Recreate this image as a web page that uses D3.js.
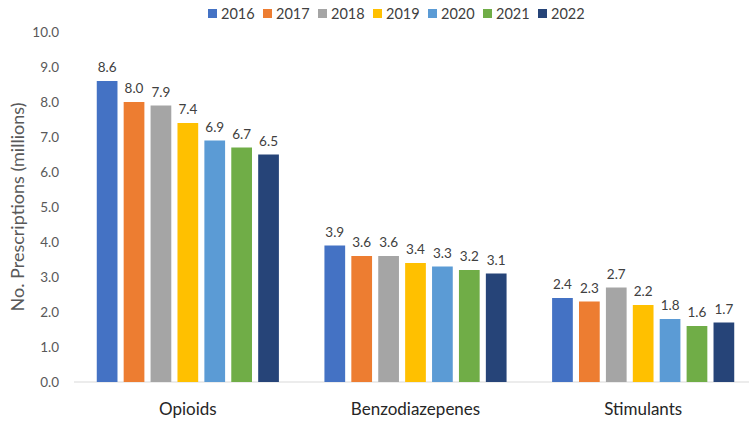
<!DOCTYPE html>
<html lang="en">
<head>
    <meta charset="UTF-8">
    <title>Prescriptions</title>
    <script src="https://d3js.org/d3.v7.min.js"></script>
    <style>
        body { margin: 0; background: #fff; }
        svg { font-family: Lato, "Open Sans", sans-serif; }
    </style>
</head>
<body>
<svg id="chart"></svg>
<script>
    const width = 749;
    const height = 421;

    // data
    var categories = ["Opioids", "Benzodiazepenes", "Stimulants"];
    var years = ["2016", "2017", "2018", "2019", "2020", "2021", "2022"];
    var values = {
        "2016": [8.6, 3.9, 2.4],
        "2017": [8.0, 3.6, 2.3],
        "2018": [7.9, 3.6, 2.7],
        "2019": [7.4, 3.4, 2.2],
        "2020": [6.9, 3.3, 1.8],
        "2021": [6.7, 3.2, 1.6],
        "2022": [6.5, 3.1, 1.7]
    };
    var yTicks = [0, 1, 2, 3, 4, 5, 6, 7, 8, 9, 10];
    var colorMap = {
        "2016": "#4472C4", "2017": "#ED7D31", "2018": "#A5A5A5", "2019": "#FFC000",
        "2020": "#5B9BD5", "2021": "#70AD47", "2022": "#264478"
    };

    const margin = {top: 32, bottom: 39, left: 74, right: -8};

    const svg = d3.select("#chart")
        .attr("width", width)
        .attr("height", height);

    const x0 = d3.scaleBand()
        .domain(categories)
        .range([margin.left, width - margin.right])
        .paddingInner(0.2)
        .paddingOuter(0.1);

    const x1 = d3.scaleBand()
        .domain(years)
        .range([0, x0.bandwidth()])
        .paddingInner(0.23);

    const y = d3.scaleLinear()
        .domain([0, 10])
        .range([height - margin.bottom, margin.top]);

    // y axis labels
    const yAxis = svg.append("g")
        .attr("transform", `translate(${margin.left},0)`)
        .call(d3.axisLeft(y).tickValues(yTicks).tickFormat(d3.format(".1f")).tickSize(0).tickPadding(15));
    yAxis.select(".domain").remove();
    yAxis.selectAll("text")
        .attr("fill", "#595959")
        .style("font-size", "13.5px")
        .style("font-family", "Lato, sans-serif");

    // baseline
    svg.append("line")
        .attr("x1", margin.left)
        .attr("x2", width)
        .attr("y1", y(0))
        .attr("y2", y(0))
        .attr("stroke", "#d9d9d9")
        .attr("stroke-width", 1);

    // bars
    const groups = svg.append("g")
        .selectAll("g")
        .data(categories)
        .join("g")
        .attr("transform", d => `translate(${x0(d)},0)`);

    groups.selectAll("rect")
        .data((c, ci) => years.map(yr => ({year: yr, value: values[yr][ci]})))
        .join("rect")
        .attr("x", d => x1(d.year))
        .attr("y", d => y(d.value))
        .attr("width", x1.bandwidth())
        .attr("height", d => y(0) - y(d.value))
        .attr("fill", d => colorMap[d.year]);

    groups.selectAll("text")
        .data((c, ci) => years.map(yr => ({year: yr, value: values[yr][ci]})))
        .join("text")
        .attr("x", d => x1(d.year) + x1.bandwidth() / 2)
        .attr("y", d => y(d.value) - 9)
        .attr("text-anchor", "middle")
        .attr("fill", "#404040")
        .style("font-size", "13.5px")
        .text(d => d.value.toFixed(1));

    // category labels
    svg.append("g")
        .selectAll("text")
        .data(categories)
        .join("text")
        .attr("x", d => x0(d) + x0.bandwidth() / 2)
        .attr("y", 415)
        .attr("text-anchor", "middle")
        .attr("fill", "#262626")
        .style("font-size", "17px")
        .text(d => d);

    // y title
    svg.append("text")
        .attr("transform", `translate(24,${(y(0) + y(10)) / 2}) rotate(-90)`)
        .attr("text-anchor", "middle")
        .attr("fill", "#595959")
        .style("font-size", "18px")
        .text("No. Prescriptions (millions)");

    // legend
    const legend = svg.append("g")
        .attr("transform", "translate(208,14)");
    const item = legend.selectAll("g")
        .data(years)
        .join("g")
        .attr("transform", (d, i) => `translate(${i * 55},0)`);
    item.append("rect")
        .attr("x", 0)
        .attr("y", -5)
        .attr("width", 9)
        .attr("height", 9)
        .attr("fill", d => colorMap[d]);
    item.append("text")
        .attr("x", 13)
        .attr("y", 4.5)
        .attr("fill", "#404040")
        .style("font-size", "14.5px")
        .text(d => d);
</script>
</body>
</html>
